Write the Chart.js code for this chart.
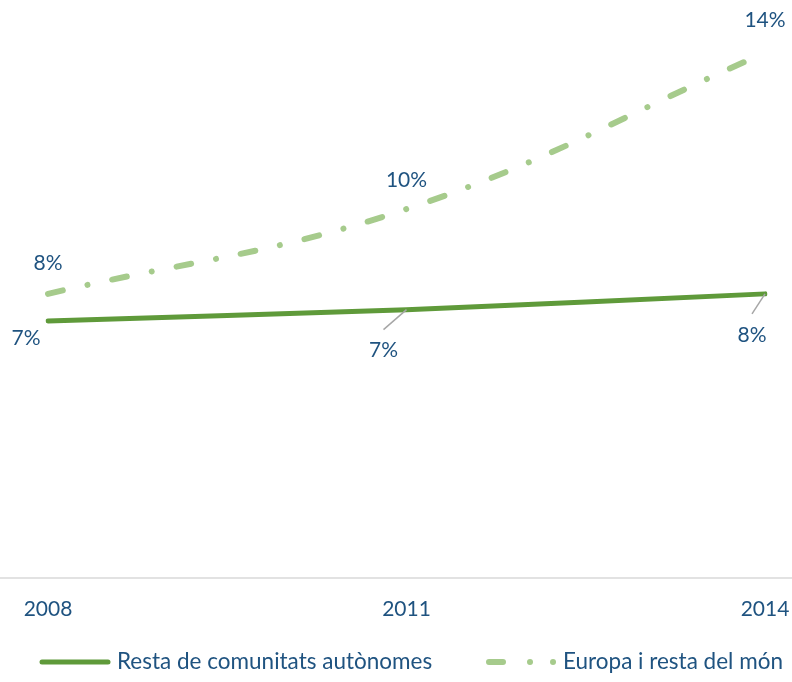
<!DOCTYPE html>
<html>
<head>
<meta charset="utf-8">
<script src="https://cdn.jsdelivr.net/npm/chart.js@4/dist/chart.umd.min.js"></script>
<style>
html,body{margin:0;padding:0;background:#fff;}
#wrap{width:792px;height:682px;position:relative;}
</style>
</head>
<body>
<div id="wrap"><canvas id="c" width="792" height="682"></canvas></div>
<script>
const categories = ['2008', '2011', '2014'];
const restaComunitats = [6.85, 7.15, 7.57];
const europaMon = [7.57, 9.83, 13.99];
const seriesNames = ['Resta de comunitats autònomes', 'Europa i resta del món'];
const labelsResta = ['7%', '7%', '8%'];
const labelsEuropa = ['8%', '10%', '14%'];

const TEXT = '#1F5380';
const DARK = '#5F9A3A';
const LIGHT = '#A6CB8C';
const FONT = 'Lato';
const DASH = [15, 25.3, 0.01, 25.3];

const decor = {
  id: 'decor',
  beforeDatasetsDraw(chart) {
    const ctx = chart.ctx, a = chart.chartArea;
    ctx.save();
    ctx.strokeStyle = '#d9d9d9';
    ctx.lineWidth = 1.5;
    ctx.beginPath();
    ctx.moveTo(0, a.bottom);
    ctx.lineTo(chart.width, a.bottom);
    ctx.stroke();
    ctx.restore();
  },
  afterDatasetsDraw(chart) {
    const ctx = chart.ctx;
    ctx.save();
    ctx.font = '21px ' + FONT;
    ctx.fillStyle = TEXT;
    ctx.textAlign = 'center';
    ctx.textBaseline = 'middle';
    const m0 = chart.getDatasetMeta(0).data;
    const m1 = chart.getDatasetMeta(1).data;
    const up = [31, 29, 33];
    m1.forEach((p, i) => ctx.fillText(labelsEuropa[i], p.x, p.y - up[i]));
    const offs = [[-22, 17], [-23, 41], [-13, 41]];
    const leaders = [null, [-23, 20], [-13, 20]];
    ctx.strokeStyle = '#A6A6A6';
    ctx.lineWidth = 1.5;
    m0.forEach((p, i) => {
      if (leaders[i]) {
        ctx.beginPath();
        ctx.moveTo(p.x, p.y);
        ctx.lineTo(p.x + leaders[i][0], p.y + leaders[i][1]);
        ctx.stroke();
      }
      ctx.fillText(labelsResta[i], p.x + offs[i][0], p.y + offs[i][1]);
    });
    // legend
    const ly = 662;
    ctx.lineCap = 'round';
    ctx.strokeStyle = DARK;
    ctx.lineWidth = 5;
    ctx.setLineDash([]);
    ctx.beginPath(); ctx.moveTo(42, ly); ctx.lineTo(108, ly); ctx.stroke();
    ctx.strokeStyle = LIGHT;
    ctx.lineWidth = 6;
    ctx.setLineDash([14, 27, 0.01, 23, 0.01, 100]);
    ctx.beginPath(); ctx.moveTo(489, ly); ctx.lineTo(560, ly); ctx.stroke();
    ctx.setLineDash([]);
    ctx.textAlign = 'left';
    ctx.fillStyle = TEXT;
    ctx.font = '22.5px ' + FONT;
    ctx.fillText(seriesNames[0], 117, ly);
    ctx.fillText(seriesNames[1], 563, ly);
    ctx.restore();
  }
};

new Chart(document.getElementById('c'), {
  type: 'line',
  data: {
    labels: categories,
    datasets: [
      {
        label: seriesNames[0],
        data: restaComunitats,
        borderColor: DARK,
        borderWidth: 5,
        borderCapStyle: 'round',
        tension: 0.4,
        pointRadius: 0,
        fill: false
      },
      {
        label: seriesNames[1],
        data: europaMon,
        borderColor: LIGHT,
        borderWidth: 6,
        borderDash: DASH,
        borderCapStyle: 'round',
        tension: 0.4,
        pointRadius: 0,
        fill: false
      }
    ]
  },
  options: {
    responsive: false,
    animation: false,
    layout: { padding: { left: 48, right: 27, top: 15, bottom: 0 } },
    plugins: { legend: { display: false }, tooltip: { enabled: false } },
    scales: {
      x: {
        offset: false,
        grid: { display: false, drawTicks: false },
        border: { display: false },
        ticks: { color: TEXT, font: { family: FONT, size: 21 }, padding: 19, maxRotation: 0, autoSkip: false },
        afterFit(s) { s.height = 104; s.paddingLeft = 0; s.paddingRight = 0; }
      },
      y: { display: false, min: 0, max: 15 }
    }
  },
  plugins: [decor]
});
</script>
</body>
</html>
